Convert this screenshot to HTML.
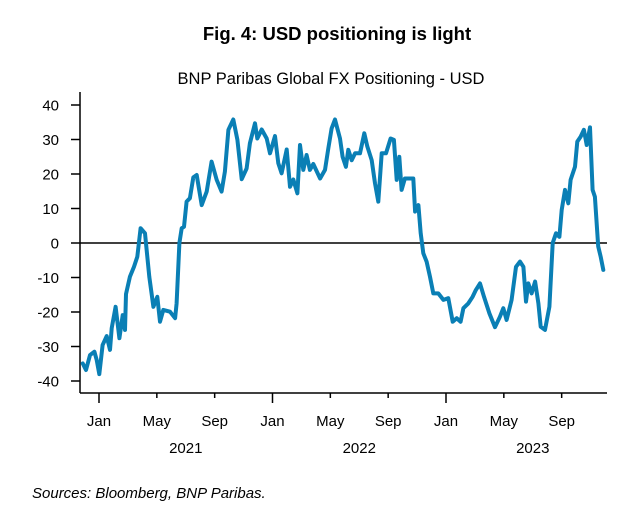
<!DOCTYPE html>
<html><head><meta charset="utf-8"><style>
body{margin:0;background:#fff;width:626px;height:519px;overflow:hidden;font-family:"Liberation Sans",Arial,sans-serif}
</style></head><body>
<svg id="chart" width="626" height="519" viewBox="0 0 626 519" xmlns="http://www.w3.org/2000/svg" font-family="Liberation Sans, Arial, sans-serif">
<text x="337" y="40" text-anchor="middle" font-size="18.5" font-weight="bold" fill="#000">Fig. 4: USD positioning is light</text>
<text x="331" y="84" text-anchor="middle" font-size="16.5" fill="#000">BNP Paribas Global FX Positioning - USD</text>
<g id="axes"></g>
<path id="line" fill="none" stroke="#0a7fb5" stroke-width="4" stroke-linejoin="round" stroke-linecap="round"/>
<text x="32" y="498" font-size="15" font-style="italic" fill="#000">Sources: Bloomberg, BNP Paribas.</text>
</svg>
<script>
// months since Jan 2021
const months=[-1.13,-0.90,-0.62,-0.32,-0.16,0.02,0.25,0.53,0.76,0.88,1.15,1.41,1.64,1.80,1.87,2.14,2.42,2.65,2.88,3.18,3.48,3.76,4.03,4.22,4.45,4.91,5.26,5.37,5.56,5.72,5.88,6.06,6.29,6.52,6.76,7.10,7.45,7.79,8.14,8.48,8.71,8.95,9.29,9.57,9.87,10.21,10.44,10.79,10.95,11.25,11.60,11.83,12.17,12.40,12.63,12.98,13.21,13.44,13.72,13.90,14.13,14.36,14.59,14.82,15.29,15.63,15.86,16.09,16.32,16.67,16.85,17.08,17.24,17.48,17.71,18.05,18.35,18.56,18.86,19.09,19.32,19.55,19.85,20.17,20.40,20.59,20.77,20.93,21.16,21.51,21.74,21.86,22.09,22.25,22.43,22.66,22.89,23.12,23.47,23.82,24.16,24.46,24.74,25.01,25.20,25.54,25.84,26.07,26.35,26.63,27.00,27.39,27.73,27.96,28.19,28.54,28.84,29.12,29.35,29.53,29.69,29.92,30.16,30.39,30.55,30.85,31.15,31.38,31.61,31.84,32.00,32.23,32.46,32.62,32.92,33.08,33.31,33.54,33.73,33.96,34.14,34.30,34.53,34.70,34.88];
const positioning=[-34.9,-36.8,-32.5,-31.5,-33.9,-38,-29.6,-27,-31,-24.7,-18.5,-27.6,-20.9,-25.2,-14.8,-9.8,-6.9,-4,4.3,2.8,-9.8,-18.5,-15.6,-22.8,-19.4,-19.9,-21.8,-17.5,0,4.3,4.7,12,13,19,19.7,11,14.9,23.6,18.3,14.9,20.7,32.8,35.8,29.9,18.5,21.6,28.9,34.7,30.3,32.9,30.3,26,31,23.1,20.2,27.1,16.3,18.4,14.4,28.4,21.2,25.5,21.2,22.9,18.7,21.2,27.4,33.2,35.8,30.3,25,22.1,27,24,26,26,31.8,28,24,17.3,12,26,26,30.3,29.9,18.3,25,15.4,18.7,18.7,18.7,9.1,11,2.8,-3,-5.4,-9.8,-14.6,-14.6,-16.5,-16,-22.8,-21.8,-22.8,-18.9,-17.5,-15.6,-13.6,-11.7,-15.6,-20.4,-24.4,-21.4,-18.9,-22.3,-16.5,-6.9,-5.4,-6.9,-17,-11.7,-14.6,-11.2,-17.5,-24.3,-25.2,-18.5,0,2.8,1.8,9.6,15.4,11.5,18.3,22.1,29.4,30.8,32.8,28.4,33.5,15.4,13.4,-1,-4,-7.8];
const yTicks=[40,30,20,10,0,-10,-20,-30,-40];
const xTickMonths=[0,4,8,12,16,20,24,28,32];
const xTickLabels=["Jan","May","Sep","Jan","May","Sep","Jan","May","Sep"];
const yearLabels=["2021","2022","2023"];
const yearMonths=[6,18,30];

const NS="http://www.w3.org/2000/svg";
const X0=80,X1=607,Y0=92,YB=393;
const xs=m=>99+m*(173.5/12);
const ys=v=>243-v*3.45;
const axes=document.getElementById('axes');
function mk(tag,attrs){const e=document.createElementNS(NS,tag);for(const k in attrs)e.setAttribute(k,attrs[k]);axes.appendChild(e);return e;}
let e=mk('line',{x1:X0,y1:Y0,x2:X0,y2:YB,stroke:'#000','stroke-width':1.5});


e=mk('line',{x1:X0,y1:YB,x2:X1,y2:YB,stroke:'#000','stroke-width':1.5});


e=mk('line',{x1:X0,y1:ys(0),x2:X1,y2:ys(0),stroke:'#000','stroke-width':1.5});


yTicks.forEach(v=>{
  let t=mk('line',{x1:X0-9,y1:ys(v),x2:X0,y2:ys(v),stroke:'#000','stroke-width':1.5});
  
  
  let l=mk('text',{x:X0-21,y:ys(v)+5.5,'text-anchor':'end','font-size':15,fill:'#000'});
  l.textContent=v;
  
  
});
xTickMonths.forEach((m,i)=>{
  const major=m%12===0;
  let t=mk('line',{x1:xs(m),y1:YB,x2:xs(m),y2:YB+(major?10:5),stroke:'#000','stroke-width':1.5});
  
  
  let l=mk('text',{x:xs(m),y:426,'text-anchor':'middle','font-size':15,fill:'#000'});
  l.textContent=xTickLabels[i];
  
  
});
yearLabels.forEach((y,i)=>{
  let l=mk('text',{x:xs(yearMonths[i]),y:453,'text-anchor':'middle','font-size':15,fill:'#000'});
  l.textContent=y;
  
  
});
document.getElementById('line').setAttribute('d',months.map((m,i)=>(i?'L':'M')+xs(m).toFixed(1)+','+ys(positioning[i]).toFixed(1)).join(''));
</script>
</body></html>
